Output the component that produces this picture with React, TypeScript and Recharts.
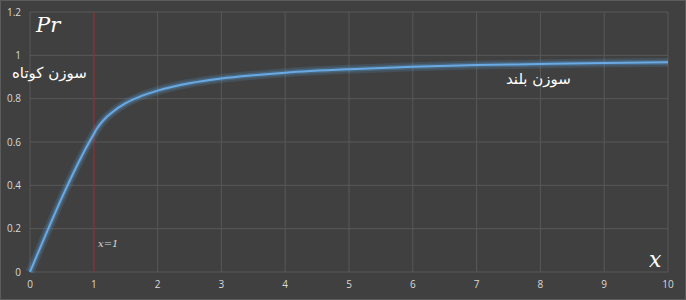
import {CartesianGrid, Line, LineChart, ReferenceLine, XAxis, YAxis} from 'recharts'

const XS = [0, 1, 1.05, 1.1, 1.2, 1.3, 1.5, 1.75, 2, 2.5, 3, 3.5, 4, 5, 6, 7, 8, 9, 10]
const PR = [0, 0.637, 0.662, 0.682, 0.715, 0.74, 0.779, 0.813, 0.837, 0.871, 0.893, 0.908, 0.92, 0.936, 0.947, 0.955, 0.96, 0.965, 0.968]
const X_TICKS = [0, 1, 2, 3, 4, 5, 6, 7, 8, 9, 10]
const Y_TICKS = [0, 0.2, 0.4, 0.6, 0.8, 1, 1.2]

const data = XS.map((x, i) => ({ x, pr: PR[i] }))

const BG = '#404040'
const GRID = '#585858'
const TICK = { fontSize: 10, fill: '#d9d9d9', fontFamily: 'Open Sans, sans-serif' }
const FA = { position: 'absolute' as const, color: '#fff', fontFamily: 'DejaVu Sans, sans-serif', fontSize: 15, direction: 'rtl' as const }

export default function App() {
  return (
    <div style={{ position: 'absolute', left: 0, top: 0, width: 686, height: 300, background: BG, boxSizing: 'border-box', border: '1px solid #5c5c5c' }}>
      <LineChart width={684} height={298} data={data} margin={{ top: 11, right: 17, bottom: 0, left: 0 }}>
        <CartesianGrid stroke={GRID} />
        <XAxis
          dataKey="x"
          type="number"
          domain={[0, 10]}
          ticks={X_TICKS}
          axisLine={false}
          tickLine={false}
          tickSize={0}
          tickMargin={9}
          height={27}
          tick={TICK}
        />
        <YAxis
          type="number"
          domain={[0, 1.2]}
          ticks={Y_TICKS}
          axisLine={false}
          tickLine={false}
          tickSize={0}
          tickMargin={9}
          width={29}
          tick={TICK}
        />
        <ReferenceLine x={1} stroke="#c8101a" strokeWidth={1} />
        <Line dataKey="pr" type="monotone" stroke="#5b9bd5" strokeOpacity={0.18} strokeWidth={9} dot={false} isAnimationActive={false} />
        <Line dataKey="pr" type="monotone" stroke="#5b9bd5" strokeOpacity={0.3} strokeWidth={5} dot={false} isAnimationActive={false} />
        <Line dataKey="pr" type="monotone" stroke="#6aaae4" strokeWidth={2} dot={false} isAnimationActive={false} />
      </LineChart>
      <div style={{ position: 'absolute', left: 35, top: 12, color: '#fff', fontFamily: 'DejaVu Serif, serif', fontStyle: 'italic', fontSize: 21 }}>Pr</div>
      <div style={{ ...FA, left: 11, top: 63 }}>سوزن کوتاه</div>
      <div style={{ ...FA, left: 505, top: 69 }}>سوزن بلند</div>
      <div style={{ position: 'absolute', left: 97, top: 237, color: '#d9d9d9', fontFamily: 'DejaVu Serif, serif', fontStyle: 'italic', fontSize: 10 }}>x=1</div>
      <div style={{ position: 'absolute', left: 648, top: 246, color: '#fff', fontFamily: 'DejaVu Serif, serif', fontStyle: 'italic', fontSize: 22 }}>x</div>
    </div>
  )
}
